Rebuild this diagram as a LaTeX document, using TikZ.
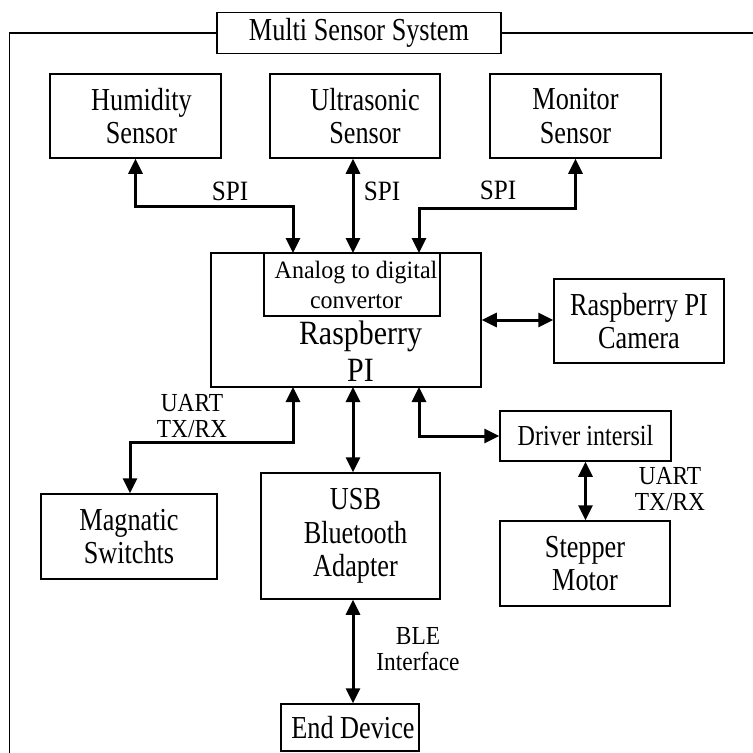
\documentclass[tikz,border=0pt]{standalone}
\usepackage{fontspec}
\setmainfont{Liberation Serif}[FakeStretch=0.82]
\newfontfamily\adcfam{Liberation Serif}[FakeStretch=0.96]
\newfontfamily\drvfam{Liberation Serif}[FakeStretch=0.83]
\newfontfamily\rpfam{Liberation Serif}[FakeStretch=0.88]
\newfontfamily\lblfam{Liberation Serif}[FakeStretch=0.9]
\usetikzlibrary{arrows.meta}
\newcommand\bigfs{\fontsize{32}{33.5}\selectfont}
\newcommand\lblfs{\lblfam\fontsize{26}{26.5}\selectfont}
\newcommand\spifs{\lblfam\fontsize{28}{29}\selectfont}
\newcommand\adcfs{\adcfam\fontsize{25}{30}\selectfont}
\newcommand\drvfs{\drvfam\fontsize{29}{30}\selectfont}
\newcommand\rpfs{\rpfam\fontsize{34}{37.5}\selectfont}
\begin{document}
\begin{tikzpicture}[x=1pt,y=-1pt,
  box/.style={draw, line width=1.5pt, align=center, inner sep=0pt, font=\bigfs},
  lbl/.style={align=center, inner sep=0pt, font=\lblfs},
  lnk/.style={line width=3pt, {Triangle[length=15pt,width=14pt]}-{Triangle[length=15pt,width=14pt]}},
  frm/.style={line width=1.5pt}]
\useasboundingbox (0,0) rectangle (753,753);

% frame and title
\node[box, minimum width=284pt, minimum height=41pt] (title) at (359,33) {Multi Sensor System};
\coordinate (fl) at (9.5,753);
\coordinate (fr) at (753,33);
\draw[frm] (fl) |- (title.west);
\draw[frm] (title.east) -- (fr);

% sensors
\node[box, minimum width=171pt, minimum height=84pt] (humid) at (135.5,116) {\hspace*{12pt}Humidity\\\hspace*{12pt}Sensor};
\node[box, minimum width=170pt, minimum height=84pt] (ultra) at (355,116) {\hspace*{20pt}Ultrasonic\\\hspace*{20pt}Sensor};
\node[box, minimum width=171pt, minimum height=84pt] (monitor) at (575.5,116) {Monitor\\Sensor};

% raspberry
\node[box, minimum width=270pt, minimum height=134pt] (rasp) at (346,320) {};
\node[box, minimum width=176pt, minimum height=63pt, font=\adcfs] (adc) at (352,284.5) {\hspace*{8pt}Analog to digital\\\hspace*{8pt}convertor};
\node[lbl, font=\rpfs] (rasplbl) at (360.5,351) {Raspberry\\PI};

\node[box, minimum width=170pt, minimum height=84pt] (camera) at (639,321) {Raspberry PI\\Camera};
\node[box, minimum width=171pt, minimum height=50pt, font=\drvfs] (driver) at (585.5,436) {Driver intersil};
\node[box, minimum width=176pt, minimum height=85pt] (magnetic) at (129,536.5) {Magnatic\\Switchts};
\node[box, minimum width=179pt, minimum height=126pt] (usb) at (350.5,536) {\hspace*{10pt}USB\\\hspace*{10pt}Bluetooth\\\hspace*{10pt}Adapter};
\node[box, minimum width=170pt, minimum height=85pt] (stepper) at (585,563.5) {Stepper\\Motor};
\node[box, minimum width=138pt, minimum height=47pt] (endd) at (350,727.5) {\hspace*{6pt}End Device};

% labels
\node[lbl, font=\spifs] (spi1) at (230,191) {SPI};
\node[lbl, font=\spifs] (spi2) at (382,191) {SPI};
\node[lbl, font=\spifs] (spi3) at (498,190) {SPI};
\node[lbl] (uartl) at (192,416) {UART\\TX/RX};
\node[lbl] (uartr) at (670,489) {UART\\TX/RX};
\node[lbl] (ble) at (418,649) {BLE\\Interface};

% attachment points
\coordinate (r1) at (293,253);
\coordinate (r2) at (353,253);
\coordinate (r3) at (419,253);
\coordinate (h1) at (293,206);
\coordinate (m1) at (419,208);
\coordinate (b1) at (293,387);
\coordinate (b2) at (353,387);
\coordinate (b3) at (419,387);
\coordinate (l1) at (130,442);

% connectors
\draw[lnk] (humid.south) |- (h1) -- (r1);
\draw[lnk] (ultra.south -| r2) -- (r2);
\draw[lnk] (monitor.south) |- (m1) -- (r3);
\draw[lnk] (rasp.east) -- (rasp.east -| camera.west);
\draw[lnk] (b1) |- (l1) -- (magnetic.north -| l1);
\draw[lnk] (b2) -- (b2 |- usb.north);
\draw[lnk] (b3) |- (driver.west);
\draw[lnk] (driver.south) -- (driver.south |- stepper.north);
\draw[lnk] (usb.south -| b2) -- (endd.north -| b2);
\end{tikzpicture}
\end{document}
